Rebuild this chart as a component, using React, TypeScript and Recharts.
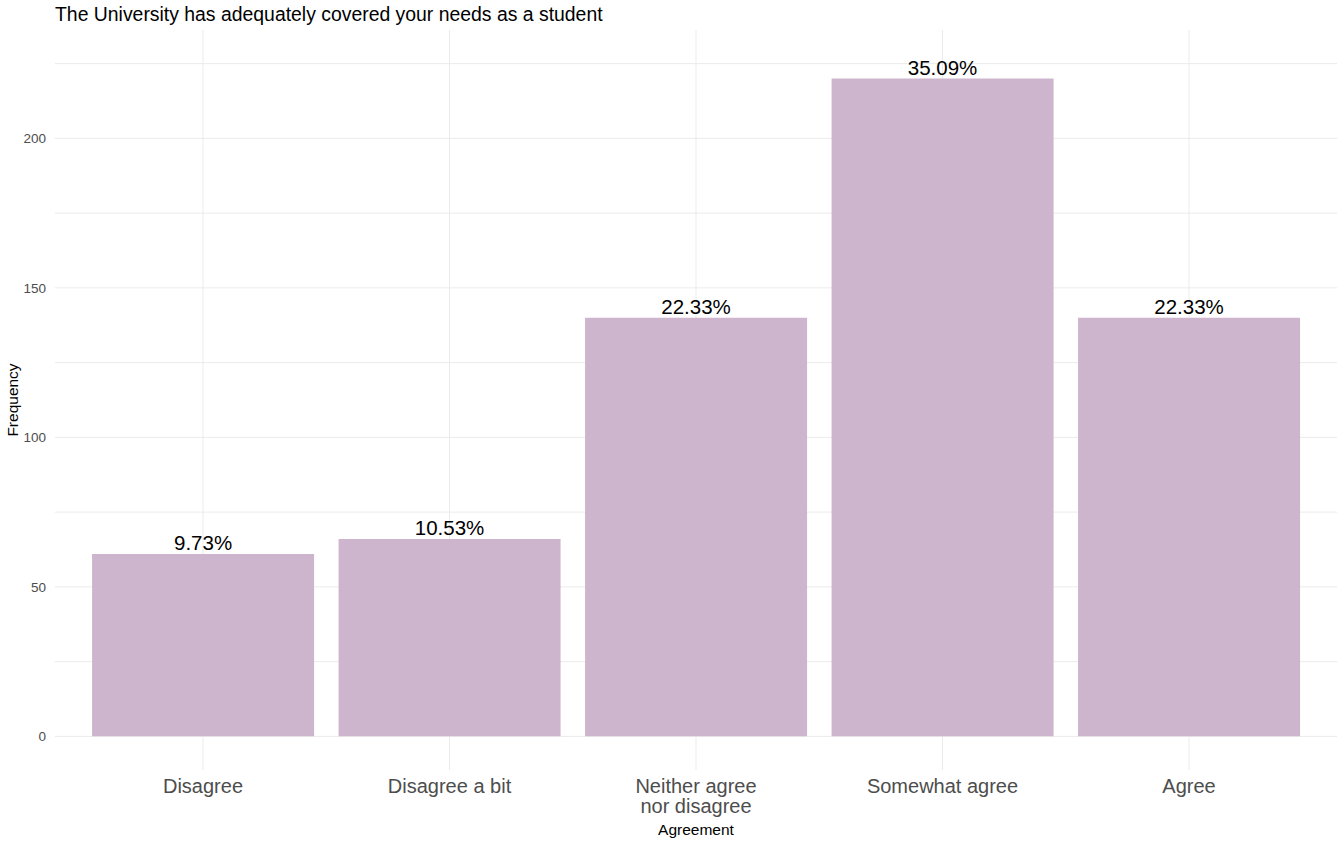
import React from "react";
import { BarChart, Bar, XAxis, YAxis, CartesianGrid, LabelList } from "recharts";

// --- data ---
const categories = ["Disagree", "Disagree a bit", "Neither agree\nnor disagree", "Somewhat agree", "Agree"];
const counts = [61, 66, 140, 220, 140];
const pctLabels = ["9.73%", "10.53%", "22.33%", "35.09%", "22.33%"];
const yTicks = [0, 50, 100, 150, 200];
const gridValues = [0, 25, 50, 75, 100, 125, 150, 175, 200, 225];

const FONT = '"Liberation Sans", Arial, sans-serif';
const X_PAD = 24.75;

const chartData = categories.map((c, i) => ({ name: c, count: counts[i], pct: pctLabels[i] }));

function CategoryTick(props: any) {
  const { x, y, payload } = props;
  const lines = String(payload.value).split("\n");
  return (
    <text x={x} y={y} textAnchor="middle" fill="#4D4D4D" fontSize={20} fontFamily={FONT}>
      {lines.map((line, i) => (
        <tspan key={i} x={x} dy={i === 0 ? 15 : 20}>
          {line}
        </tspan>
      ))}
    </text>
  );
}

// vertical grid only at category centres (no lines at the panel edges)
function categoryCentres({ offset }: any) {
  if (!offset) return [];
  const band = (offset.width - 2 * X_PAD) / categories.length;
  return categories.map((_, i) => offset.left + X_PAD + band * (i + 0.5));
}

export default function App() {
  return (
    <div style={{ position: "absolute", left: 0, top: 0, width: 1339, height: 844, background: "#fff", fontFamily: FONT }}>
      <div
        style={{
          position: "absolute",
          left: 55,
          top: 5,
          fontSize: 19.4,
          lineHeight: 1,
          color: "#000",
          whiteSpace: "nowrap",
        }}
      >
        The University has adequately covered your needs as a student
      </div>
      <BarChart
        width={1339}
        height={844}
        data={chartData}
        margin={{ top: 30, right: 2, left: 0, bottom: 0 }}
        barCategoryGap="5%"
      >
        <CartesianGrid
          stroke="#EBEBEB"
          horizontalValues={gridValues}
          verticalCoordinatesGenerator={categoryCentres}
        />
        <XAxis
          dataKey="name"
          height={74}
          padding={{ left: X_PAD, right: X_PAD }}
          axisLine={false}
          tickLine={false}
          interval={0}
          tick={<CategoryTick />}
          label={{
            content: (p: any) => {
              const vb = p.viewBox;
              return (
                <text x={vb.x + vb.width / 2} y={835} textAnchor="middle" fontSize={15.5} fontFamily={FONT} fill="#000">
                  Agreement
                </text>
              );
            },
          }}
        />
        <YAxis
          width={55}
          domain={[-11.25, 236.25]}
          ticks={yTicks}
          axisLine={false}
          tickLine={false}
          tickSize={6}
          tickMargin={3}
          tick={{ fill: "#4D4D4D", fontSize: 13.5, fontFamily: FONT }}
          label={{
            content: () => (
              <text
                x={18}
                y={400}
                transform="rotate(-90, 18, 400)"
                textAnchor="middle"
                fontSize={15.5}
                fontFamily={FONT}
                fill="#000"
              >
                Frequency
              </text>
            ),
          }}
        />
        <Bar dataKey="count" fill="#CDB5CD" isAnimationActive={false}>
          <LabelList dataKey="pct" position="top" offset={4} fill="#000" fontSize={20.5} fontFamily={FONT} />
        </Bar>
      </BarChart>
    </div>
  );
}
